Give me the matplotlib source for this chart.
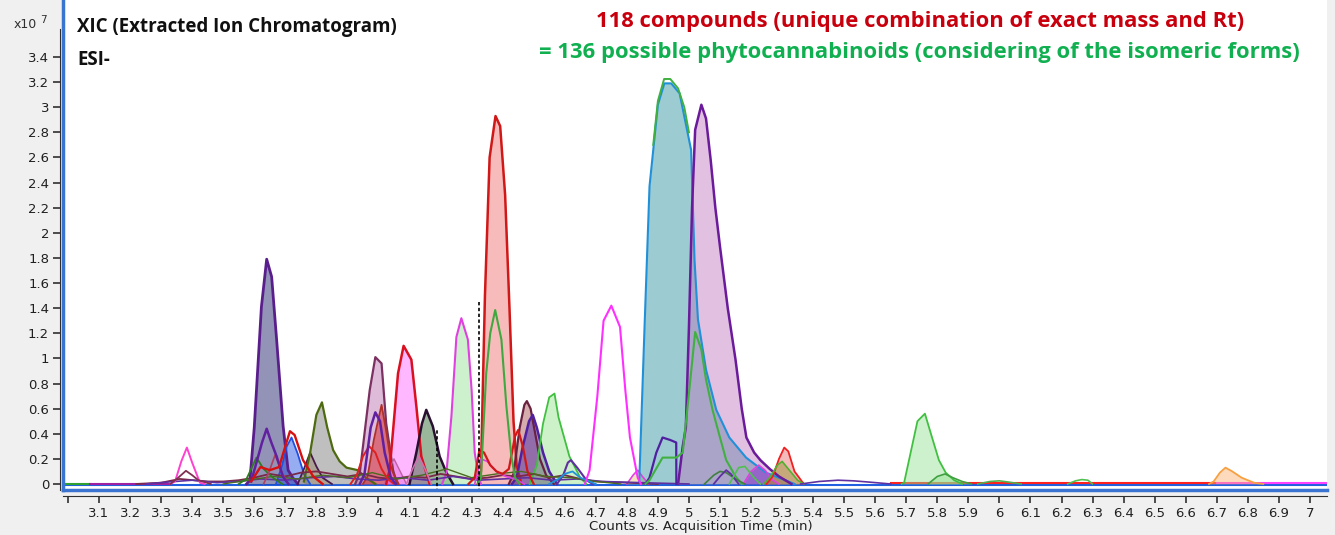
import numpy as np
import matplotlib.pyplot as plt

# retention time (min) and intensity (x1e7)
t_338a = [3.33, 3.345, 3.365, 3.383, 3.40, 3.425, 3.44]
i_338a = [0.0, 0.02, 0.18, 0.29, 0.17, 0.01, 0.0]
t_338b = [3.33, 3.355, 3.38, 3.40, 3.42, 3.46]
i_338b = [0.0, 0.05, 0.105, 0.07, 0.03, 0.0]

t_364 = [3.575, 3.586, 3.60, 3.623, 3.64, 3.656, 3.672, 3.693, 3.709, 3.724, 3.74]
i_364 = [0.0, 0.03, 0.45, 1.41, 1.79, 1.65, 1.15, 0.46, 0.11, 0.05, 0.0]
t_364b = [3.59, 3.607, 3.625, 3.64, 3.655, 3.672, 3.692, 3.71]
i_364b = [0.02, 0.17, 0.33, 0.44, 0.33, 0.22, 0.06, 0.0]
t_361 = [3.55, 3.575, 3.607, 3.63, 3.66, 3.69]
i_361 = [0.0, 0.04, 0.21, 0.12, 0.05, 0.0]
t_372r = [3.59, 3.62, 3.65, 3.68, 3.70, 3.715, 3.73, 3.757, 3.79, 3.82]
i_372r = [0.02, 0.135, 0.11, 0.135, 0.30, 0.42, 0.39, 0.19, 0.06, 0.0]
t_372 = [3.67, 3.69, 3.705, 3.72, 3.74, 3.76, 3.78]
i_372 = [0.0, 0.15, 0.30, 0.37, 0.24, 0.08, 0.0]
t_367 = [3.63, 3.645, 3.667, 3.69, 3.71]
i_367 = [0.0, 0.08, 0.23, 0.09, 0.0]
t_378 = [3.74, 3.76, 3.78, 3.80, 3.82, 3.85]
i_378 = [0.0, 0.12, 0.25, 0.14, 0.05, 0.0]
t_382 = [3.76, 3.78, 3.80, 3.818, 3.835, 3.854, 3.875, 3.897, 3.933, 3.96, 3.99]
i_382 = [0.02, 0.25, 0.55, 0.65, 0.45, 0.27, 0.18, 0.13, 0.11, 0.05, 0.0]

t_399 = [3.925, 3.94, 3.955, 3.972, 3.99, 4.01, 4.025, 4.047, 4.06]
i_399 = [0.0, 0.09, 0.40, 0.75, 1.01, 0.96, 0.48, 0.11, 0.0]
t_401 = [3.95, 3.965, 3.985, 4.01, 4.025, 4.045, 4.065]
i_401 = [0.0, 0.06, 0.35, 0.63, 0.42, 0.10, 0.0]
t_399b = [3.94, 3.955, 3.975, 3.99, 4.005, 4.02, 4.04, 4.055]
i_399b = [0.0, 0.08, 0.45, 0.57, 0.50, 0.25, 0.05, 0.0]
t_397 = [3.91, 3.93, 3.95, 3.97, 3.99, 4.01, 4.03, 4.05]
i_397 = [0.0, 0.07, 0.22, 0.30, 0.25, 0.12, 0.04, 0.0]
t_404 = [4.02, 4.035, 4.05, 4.07, 4.09]
i_404 = [0.0, 0.12, 0.20, 0.10, 0.0]
t_408 = [4.025, 4.036, 4.063, 4.081, 4.106, 4.122, 4.138, 4.154, 4.165]
i_408 = [0.0, 0.11, 0.88, 1.10, 0.99, 0.62, 0.22, 0.09, 0.0]
t_413 = [4.09, 4.11, 4.13, 4.15, 4.17]
i_413 = [0.0, 0.12, 0.22, 0.12, 0.0]
t_415 = [4.10, 4.122, 4.14, 4.154, 4.175, 4.197, 4.219, 4.24]
i_415 = [0.0, 0.25, 0.48, 0.59, 0.46, 0.22, 0.09, 0.0]
t_427 = [4.205, 4.219, 4.235, 4.251, 4.267, 4.288, 4.30, 4.31, 4.32, 4.33]
i_427 = [0.0, 0.09, 0.54, 1.17, 1.32, 1.15, 0.75, 0.25, 0.09, 0.0]

t_438 = [4.32, 4.33, 4.343, 4.358, 4.377, 4.392, 4.408, 4.422, 4.435, 4.445, 4.46]
i_438 = [0.0, 0.10, 1.50, 2.60, 2.93, 2.85, 2.30, 1.40, 0.50, 0.15, 0.0]
t_432r = [4.29, 4.31, 4.325, 4.34, 4.36, 4.38, 4.40, 4.42, 4.44, 4.45, 4.465, 4.48, 4.50]
i_432r = [0.0, 0.05, 0.27, 0.25, 0.15, 0.10, 0.08, 0.12, 0.38, 0.43, 0.30, 0.10, 0.0]
t_434m = [4.31, 4.33, 4.35, 4.38, 4.41, 4.44, 4.47]
i_434m = [0.0, 0.20, 0.18, 0.10, 0.06, 0.04, 0.0]
t_437g = [4.32, 4.33, 4.347, 4.36, 4.376, 4.396, 4.412, 4.428, 4.44, 4.455]
i_437g = [0.0, 0.05, 0.88, 1.20, 1.385, 1.15, 0.62, 0.22, 0.05, 0.0]
t_448 = [4.42, 4.435, 4.455, 4.47, 4.478, 4.49, 4.505, 4.52, 4.54, 4.565]
i_448 = [0.0, 0.08, 0.45, 0.63, 0.66, 0.60, 0.40, 0.20, 0.07, 0.0]
t_450 = [4.43, 4.445, 4.465, 4.485, 4.497, 4.51, 4.53, 4.55, 4.575]
i_450 = [0.0, 0.05, 0.30, 0.50, 0.55, 0.45, 0.25, 0.10, 0.0]
t_457 = [4.487, 4.51, 4.53, 4.55, 4.567, 4.58, 4.615, 4.65, 4.67]
i_457 = [0.0, 0.15, 0.48, 0.69, 0.72, 0.53, 0.22, 0.05, 0.0]
t_462 = [4.575, 4.595, 4.61, 4.62, 4.64, 4.67, 4.69]
i_462 = [0.0, 0.07, 0.17, 0.19, 0.13, 0.03, 0.0]
t_462b = [4.55, 4.58, 4.60, 4.625, 4.65, 4.70]
i_462b = [0.0, 0.04, 0.08, 0.10, 0.05, 0.0]
t_475 = [4.665, 4.68, 4.705, 4.725, 4.75, 4.778, 4.795, 4.81, 4.835, 4.845]
i_475 = [0.0, 0.11, 0.70, 1.30, 1.42, 1.25, 0.75, 0.37, 0.05, 0.0]
t_484 = [4.80, 4.82, 4.835, 4.85, 4.87]
i_484 = [0.0, 0.07, 0.11, 0.06, 0.0]

t_493 = [4.835, 4.84, 4.857, 4.873, 4.90, 4.921, 4.943, 4.97, 5.007, 5.018,
         5.029, 5.055, 5.088, 5.13, 5.184, 5.248, 5.31, 5.34]
i_493 = [0.0, 0.02, 1.25, 2.37, 3.02, 3.19, 3.19, 3.11, 2.66, 1.78,
         1.31, 0.91, 0.59, 0.37, 0.21, 0.09, 0.03, 0.0]
t_493g = [4.885, 4.90, 4.92, 4.94, 4.965, 4.985, 5.0]
i_493g = [2.70, 3.05, 3.225, 3.225, 3.15, 3.00, 2.80]
t_492p = [4.86, 4.873, 4.895, 4.915, 4.94, 4.959, 4.9595]
i_492p = [0.0, 0.05, 0.25, 0.37, 0.35, 0.33, 0.0]
t_504 = [4.965, 4.98, 4.99, 5.0, 5.01, 5.02, 5.04, 5.055, 5.07, 5.085, 5.10,
         5.125, 5.15, 5.17, 5.185, 5.21, 5.23, 5.26, 5.29, 5.33]
i_504 = [0.0, 0.30, 0.45, 1.25, 2.20, 2.82, 3.02, 2.91, 2.58, 2.20, 1.89,
         1.40, 0.99, 0.60, 0.37, 0.25, 0.19, 0.12, 0.06, 0.0]
t_502g = [4.86, 4.873, 4.915, 4.959, 4.98, 5.0, 5.02, 5.04, 5.055, 5.076, 5.10, 5.12, 5.15, 5.17]
i_502g = [0.0, 0.03, 0.21, 0.21, 0.25, 0.72, 1.21, 1.07, 0.83, 0.59, 0.37, 0.19, 0.06, 0.0]
t_510 = [5.05, 5.08, 5.10, 5.12, 5.15, 5.18]
i_510 = [0.0, 0.07, 0.10, 0.09, 0.04, 0.0]
t_512 = [5.08, 5.10, 5.12, 5.135, 5.16]
i_512 = [0.0, 0.06, 0.11, 0.08, 0.0]
t_517 = [5.13, 5.16, 5.18, 5.21, 5.23]
i_517 = [0.0, 0.13, 0.14, 0.05, 0.0]
t_522 = [5.175, 5.20, 5.225, 5.245, 5.27, 5.29]
i_522 = [0.0, 0.10, 0.15, 0.11, 0.03, 0.0]
t_531 = [5.25, 5.27, 5.29, 5.307, 5.32, 5.34, 5.37]
i_531 = [0.0, 0.06, 0.20, 0.29, 0.26, 0.10, 0.0]
t_530 = [5.24, 5.26, 5.285, 5.30, 5.32, 5.35, 5.37]
i_530 = [0.0, 0.05, 0.15, 0.18, 0.12, 0.03, 0.0]
t_550 = [5.36, 5.42, 5.48, 5.53, 5.58, 5.65]
i_550 = [0.0, 0.02, 0.03, 0.025, 0.015, 0.0]

t_576 = [5.685, 5.693, 5.736, 5.76, 5.783, 5.805, 5.827, 5.854, 5.88]
i_576 = [0.0, 0.01, 0.50, 0.56, 0.37, 0.19, 0.09, 0.03, 0.0]
t_582 = [5.77, 5.80, 5.825, 5.85, 5.88, 5.91]
i_582 = [0.0, 0.06, 0.08, 0.05, 0.02, 0.0]
t_600 = [5.93, 5.97, 6.0, 6.03, 6.07]
i_600 = [0.0, 0.02, 0.025, 0.015, 0.0]
t_627 = [6.22, 6.245, 6.265, 6.285, 6.30]
i_627 = [0.0, 0.025, 0.035, 0.03, 0.0]
t_673 = [6.675, 6.69, 6.71, 6.728, 6.75, 6.78, 6.82, 6.85]
i_673 = [0.0, 0.02, 0.09, 0.13, 0.10, 0.05, 0.01, 0.0]

# low level clutter under the main peaks
t_noise_a = [3.22, 3.30, 3.36, 3.45, 3.50, 3.55, 3.60, 3.65, 3.70, 3.75, 3.80, 3.85, 3.90,
             3.95, 4.00, 4.05, 4.10, 4.15, 4.20, 4.25, 4.30, 4.35, 4.40, 4.45, 4.50,
             4.55, 4.60, 4.65, 4.70, 4.80, 4.90]
i_noise_a = [0.0, 0.01, 0.04, 0.02, 0.02, 0.03, 0.05, 0.08, 0.06, 0.09, 0.10, 0.08, 0.06,
             0.08, 0.05, 0.04, 0.06, 0.05, 0.08, 0.06, 0.04, 0.05, 0.07, 0.06, 0.08,
             0.05, 0.07, 0.04, 0.02, 0.01, 0.0]
t_noise_b = [3.25, 3.32, 3.40, 3.48, 3.55, 3.62, 3.70, 3.78, 3.86, 3.93, 4.00, 4.08, 4.16,
             4.24, 4.32, 4.40, 4.48, 4.56, 4.64, 4.72, 4.85, 5.0]
i_noise_b = [0.0, 0.015, 0.03, 0.01, 0.02, 0.04, 0.03, 0.05, 0.06, 0.04, 0.03, 0.05, 0.03,
             0.06, 0.03, 0.04, 0.05, 0.03, 0.04, 0.02, 0.01, 0.0]
t_noise_c = [3.50, 3.58, 3.66, 3.74, 3.82, 3.90, 3.98, 4.06, 4.14, 4.22, 4.30, 4.38, 4.46,
             4.54, 4.62, 4.70, 4.78]
i_noise_c = [0.0, 0.03, 0.06, 0.04, 0.07, 0.05, 0.09, 0.04, 0.07, 0.12, 0.05, 0.08, 0.10,
             0.06, 0.05, 0.02, 0.0]

# flat baselines
t_base_green = [2.99, 3.07]
t_base_purple = [3.07, 3.33]
t_base_red = [5.65, 6.70]
t_base_mag = [6.70, 7.06]
t_base_blue = [2.99, 7.06]

x_ticks = [round(3.0 + 0.1 * k, 1) for k in range(41)]
y_ticks = [round(0.2 * k, 1) for k in range(18)]

# (times, intensities, edge colour, fill colour, line width)
FILLS = [
    (t_364, i_364, "#5a1e8c", "#111161", 2.0),
    (t_372, i_372, "#2050e0", "#194be1", 1.3),
    (t_378, i_378, "#4a1a4a", "#b99155", 1.3),
    (t_382, i_382, "#4e6a10", "#717171", 1.6),
    (t_399, i_399, "#7a3060", "#b969af", 1.6),
    (t_401, i_401, "#b03028", "#d01010", 1.3),
    (t_404, i_404, "#c060a0", "#d070c0", 1.0),
    (t_408, i_408, "#d81020", "#ff61ff", 1.8),
    (t_415, i_415, "#2a1030", "#216121", 1.8),
    (t_427, i_427, "#e040e0", "#91e191", 1.5),
    (t_438, i_438, "#d01818", "#f16969", 1.8),
    (t_448, i_448, "#6a2040", "#a54b4b", 1.6),
    (t_450, i_450, "#5020a0", "#4121a5", 1.8),
    (t_457, i_457, "#40c040", "#91e187", 1.3),
    (t_484, i_484, "#e040e0", "#e1c369", 1.2),
    (t_493, i_493, "#2090d8", "#258d9d", 1.5),
    (t_504, i_504, "#6a1a9a", "#bd75bd", 1.8),
    (t_522, i_522, "#e040e0", "#7d19cd", 1.2),
    (t_531, i_531, "#f02020", "#e96969", 1.3),
    (t_530, i_530, "#50b030", "#91912d", 1.2),
    (t_576, i_576, "#40c040", "#91e191", 1.3),
    (t_582, i_582, "#40a040", "#91e191", 1.2),
    (t_673, i_673, "#f8a040", "#f9af69", 1.3),
]
LINES = [
    (t_noise_a, i_noise_a, "#7a2848", 1.3),
    (t_noise_b, i_noise_b, "#6030a0", 1.2),
    (t_noise_c, i_noise_c, "#4a6a20", 1.0),
    (t_338a, i_338a, "#ff40d0", 1.4),
    (t_338b, i_338b, "#803050", 1.3),
    (t_361, i_361, "#2e7d20", 1.3),
    (t_367, i_367, "#b04060", 1.2),
    (t_364b, i_364b, "#6020a0", 1.8),
    (t_372r, i_372r, "#d81010", 1.7),
    (t_397, i_397, "#e02020", 1.4),
    (t_399b, i_399b, "#6020a0", 1.8),
    (t_413, i_413, "#d070b0", 1.2),
    (t_434m, i_434m, "#e040e0", 1.2),
    (t_432r, i_432r, "#d01818", 1.6),
    (t_437g, i_437g, "#40a840", 1.5),
    (t_462, i_462, "#6030a0", 1.5),
    (t_462b, i_462b, "#2090d8", 1.3),
    (t_475, i_475, "#ff30ff", 1.5),
    (t_493g, i_493g, "#40b040", 1.4),
    (t_492p, i_492p, "#5020a0", 1.6),
    (t_502g, i_502g, "#40b040", 1.5),
    (t_510, i_510, "#408040", 1.2),
    (t_512, i_512, "#6030a0", 1.3),
    (t_517, i_517, "#50c050", 1.2),
    (t_550, i_550, "#6030a0", 1.2),
    (t_600, i_600, "#50b050", 1.2),
    (t_627, i_627, "#50c050", 1.2),
]

fig = plt.figure(figsize=(13.35, 5.35), dpi=100, facecolor="#f0f0f0")
ax = fig.add_axes([63 / 1335, 1 - 490 / 535, 1264 / 1335, 490 / 535])
ax.set_facecolor("white")

ax.plot(t_base_blue, [-0.012, -0.012], color="#2060e0", lw=1.5, zorder=1)
ax.plot(t_base_green, [0, 0], color="#30a030", lw=1.5, zorder=1)
ax.plot(t_base_purple, [0, 0], color="#a020a0", lw=1.5, zorder=1)
ax.plot(t_base_red, [0.004, 0.004], color="#ff2020", lw=1.5, zorder=1)
ax.plot(t_base_mag, [0.004, 0.004], color="#ff40ff", lw=1.5, zorder=1)

for t, i, edge, fill, lw in FILLS:
    ax.fill_between(t, i, 0, color=fill, alpha=0.45, lw=0, zorder=2)
for t, i, edge, fill, lw in FILLS:
    ax.plot(t, i, color=edge, lw=lw, zorder=3)
for t, i, edge, lw in LINES:
    ax.plot(t, i, color=edge, lw=lw, zorder=3)

# retention markers
ax.plot([4.19, 4.19], [-0.06, 0.43], color="black", ls=(0, (2, 1.5)), lw=1.2, zorder=4)
ax.plot([4.323, 4.323], [-0.06, 1.45], color="black", ls=(0, (2, 1.5)), lw=1.2, zorder=4)

ax.set_xlim(2.984, 7.055)
ax.set_ylim(-0.048, 3.854)

for s in ["top", "right"]:
    ax.spines[s].set_visible(False)
ax.spines["left"].set_position(("outward", 2))
ax.spines["bottom"].set_position(("outward", 4))
ax.spines["left"].set_color("#303030")
ax.spines["bottom"].set_color("#303030")
ax.spines["left"].set_bounds(-0.048, 3.62)
# blue frame
ax.plot([0, 1], [0, 0], transform=ax.transAxes, color="#3a74d0", lw=2.5, clip_on=False, zorder=5)
ax.plot([0, 0], [0, 1], transform=ax.transAxes, color="#3a74d0", lw=2.5, clip_on=False, zorder=5)

ax.set_xticks(x_ticks)
ax.set_xticklabels(["" if v == 3.0 else (f"{v:.0f}" if v == int(v) else f"{v:.1f}") for v in x_ticks])
ax.set_yticks(y_ticks)
ax.set_yticklabels([f"{v:.0f}" if v == int(v) else f"{v:.1f}" for v in y_ticks])
ax.tick_params(axis="both", direction="out", length=5, width=1.2, color="#303030",
               labelsize=9.5, labelcolor="#202020", pad=3)

fig.text(701 / 1335, 1 - 520 / 535, "Counts vs. Acquisition Time (min)", ha="center", va="top",
         fontsize=9.5, color="#202020")
fig.text(14 / 1335, 1 - 28 / 535, "x10", ha="left", va="baseline", fontsize=9, color="#303030")
fig.text(40 / 1335, 1 - 23 / 535, "7", ha="left", va="baseline", fontsize=7.5, color="#303030")

fig.text(77 / 1335, 1 - 27 / 535, "XIC (Extracted Ion Chromatogram)", ha="left", va="center",
         fontsize=13.5, fontweight="bold", family="Open Sans", color="#101010")
fig.text(77 / 1335, 1 - 60 / 535, "ESI-", ha="left", va="center",
         fontsize=13.5, fontweight="bold", family="Open Sans", color="#101010")
fig.text(920 / 1335, 1 - 21 / 535, "118 compounds (unique combination of exact mass and Rt)",
         ha="center", va="center", fontsize=15.8, fontweight="bold", family="Open Sans", color="#c8000e")
fig.text(919 / 1335, 1 - 52 / 535, "= 136 possible phytocannabinoids (considering of the isomeric forms)",
         ha="center", va="center", fontsize=15.8, fontweight="bold", family="Open Sans", color="#10b050")

fig.savefig("out.png", dpi=100, facecolor=fig.get_facecolor())
